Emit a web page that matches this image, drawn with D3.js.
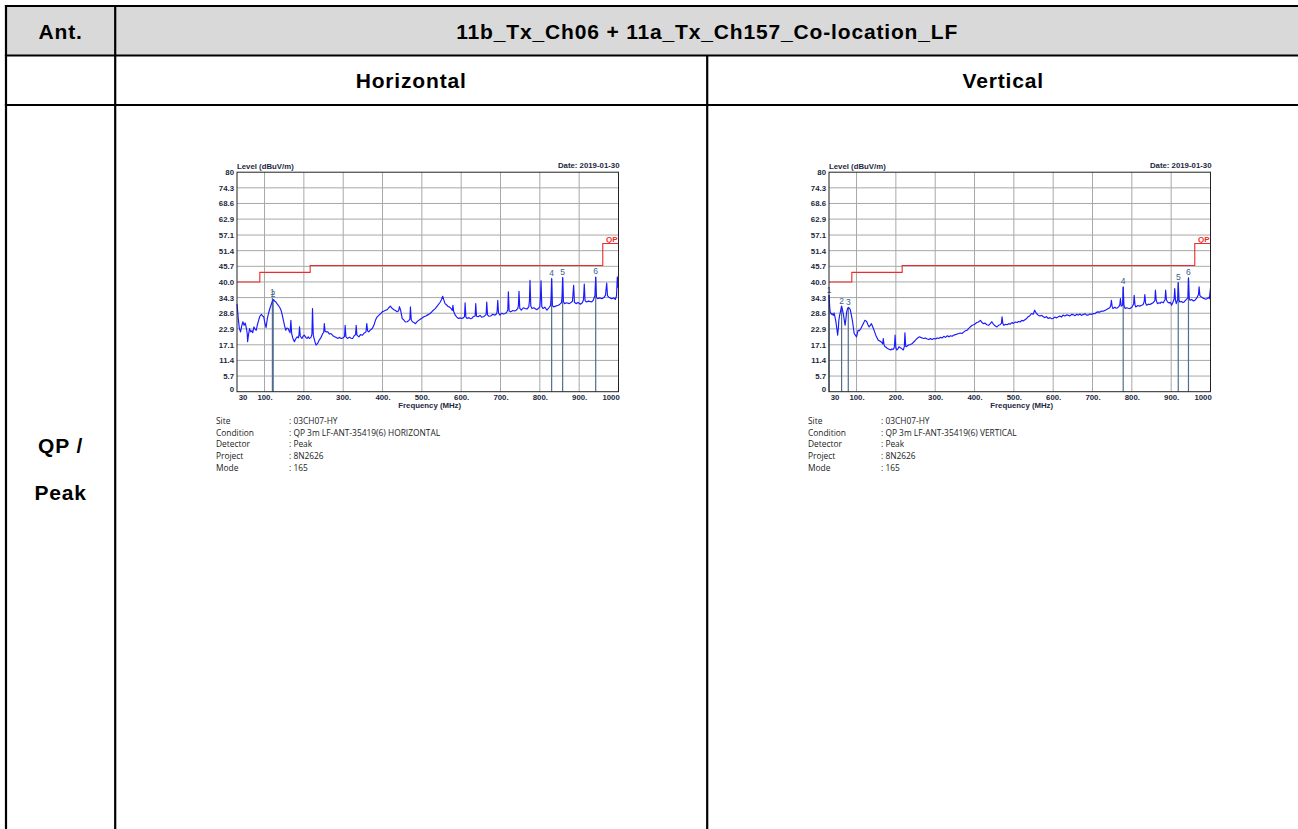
<!DOCTYPE html>
<html>
<head>
<meta charset="utf-8">
<script src="https://cdn.jsdelivr.net/npm/d3@7"></script>
<style>
  body { margin: 0; background: #fff; }
  svg { display: block; font-family: "Liberation Sans", Arial, sans-serif; }
</style>
</head>
<body>
<div id="page"></div>
<script>
// ---- data ----
const xTicks = [30, 100, 200, 300, 400, 500, 600, 700, 800, 900, 1000];
const xTickLabels = ["30", "100.", "200.", "300.", "400.", "500.", "600.", "700.", "800.", "900.", "1000"];
const yTicks = [0, 5.7, 11.4, 17.1, 22.9, 28.6, 34.3, 40.0, 45.7, 51.4, 57.1, 62.9, 68.6, 74.3, 80];
const yTickLabels = ["0", "5.7", "11.4", "17.1", "22.9", "28.6", "34.3", "40.0", "45.7", "51.4", "57.1", "62.9", "68.6", "74.3", "80"];

// QP limit, stepped (MHz, dBuV/m)
const limitFreq = [30, 88, 88, 216, 216, 960, 960, 1000];
const limitLevel = [40, 40, 43.5, 43.5, 46, 46, 54, 54];

// horizontal trace [MHz, dBuV/m]
const horizTrace = [
  [30, 32], [33, 27], [36, 23], [39, 21.8], [42, 24], [45, 25.5], [48, 24.2], [51, 25], [54, 23], [56, 21.2],
  [57, 18.2], [59, 20.5], [62, 23], [65, 21.8], [68, 22.2], [70, 21.5], [73, 23.6], [76, 22.8], [79, 22.4],
  [82, 24.5], [85, 26], [88, 27.5], [92, 28.2], [95, 27.6], [98, 27.3], [101, 25], [104, 23.4], [107, 26.5],
  [110, 28.5], [114, 30.5], [117, 31.8], [120, 33], [123, 33.6], [126, 33], [129, 32.7], [132, 32], [135, 31.5],
  [139, 30.6], [142, 29.7], [145, 28], [148, 26], [151, 24], [154, 22.4], [157, 23.2], [160, 23], [163, 22],
  [165, 21.5], [167, 26], [169, 21.2], [172, 19.5], [176, 18.2], [179, 19.2], [183, 20], [186, 19.6], [187.5, 20.5],
  [189, 23.6], [191, 20.2], [195, 19.4], [198, 20.2], [201, 20.6], [205, 19.8], [208, 19.4], [211, 20], [214, 19.4],
  [218, 19.8], [220.5, 21], [222, 30.3], [224, 20.5], [226, 19.4], [229, 17.8], [231, 17], [235, 17.6], [239, 18.8],
  [243, 19.6], [248, 21.2], [250.5, 21.6], [252, 24.8], [254, 22], [257, 21.8], [261, 21.8], [265, 21], [269, 21.2],
  [274, 20.4], [278, 20], [282, 19.8], [286, 19.4], [290, 19.8], [295, 19.4], [300, 19.6], [303.5, 20.2], [305, 24.2],
  [307, 20], [311, 19.4], [316, 19.9], [320, 19.5], [324, 19.4], [328, 20.4], [331.5, 20.8], [333, 24.2], [335, 20.6],
  [340, 20], [344, 20.8], [349, 20.6], [354, 21.4], [358, 21.8], [360, 24.8], [362, 22.2], [365, 21.8], [370, 22.6],
  [374, 23], [378, 24.2], [382, 26], [386, 27.2], [391, 27.9], [395, 28.4], [399, 29.1], [404, 29.4], [408, 29.7],
  [412, 29.9], [416, 30.6], [420, 31.2], [424, 30.4], [429, 29.9], [433, 29.6], [437, 29.1], [441, 29.5], [443, 31],
  [446, 29.7], [448, 28.2], [450, 26.7], [454, 26.2], [458, 25.4], [463, 25.5], [467, 26], [469.5, 26.4], [471, 30.9],
  [473, 26.2], [476, 25.5], [480, 25.2], [484, 24.8], [488, 25.6], [492, 26], [496, 26.4], [500, 26.8], [505, 27.3],
  [510, 27.6], [515, 28], [521, 28.5], [527, 29.4], [534, 30.3], [540, 31.4], [547, 32.7], [550, 33.6], [553, 34.8],
  [556, 33.4], [559, 32.1], [563, 31.6], [567, 31], [570, 30.9], [575, 30.2], [577.5, 29.6], [579, 31.5], [581, 29.2],
  [585, 27.9], [589, 27.2], [593, 26.7], [597, 26.9], [602, 26.7], [606, 27], [608.5, 27.4], [610, 32.4], [612, 27.2],
  [615, 26.7], [620, 27], [624, 26.6], [627, 26.7], [631, 27.4], [635.5, 27.6], [637, 32.1], [639, 27.5], [643, 27.3],
  [648, 27.8], [652, 27.2], [657, 27.3], [661, 27.8], [663.5, 28.2], [665, 32.7], [667, 28], [670, 27.5], [675, 27.6],
  [680, 28.2], [686, 27.9], [690, 28.4], [691.5, 29.5], [693, 33.3], [695, 28.6], [699, 27.9], [703, 28.6], [708, 28.3],
  [712, 28.5], [716, 29], [718.5, 29.8], [720, 36.4], [722, 29.4], [726, 29.1], [731, 29.6], [736, 29.4], [740, 29.7],
  [744, 30.4], [745.5, 31.5], [747, 36.6], [749, 30.4], [753, 29.7], [758, 30.6], [763, 30.3], [768, 30.2], [772, 31],
  [773.5, 33], [775, 40.6], [777, 31.2], [780, 30.3], [785, 30.6], [792, 29.9], [797, 30.4], [800, 31], [801.5, 34],
  [803, 40.4], [805, 31], [808, 30.3], [813, 30.8], [818, 29.7], [823, 30.6], [827, 31.4], [828.5, 34], [830, 41.2],
  [832, 31.4], [835, 30.9], [840, 31.2], [847, 31.5], [851, 31.9], [855, 32.4], [856.5, 35], [858, 41.6], [860, 32.8],
  [863, 32.1], [868, 32.4], [875, 32.1], [880, 32.6], [883, 33], [884.5, 36], [886, 38.8], [888, 32.6], [892, 32.1],
  [897, 32.5], [903, 31.9], [908, 32.4], [911, 33.5], [913, 39.2], [915, 33.2], [918, 32.7], [924, 33], [932, 32.7],
  [936, 33.4], [940, 35], [942, 41.8], [944, 34.4], [947, 33.9], [952, 34.2], [958, 33.9], [963, 34.3], [967, 35.2],
  [970, 39.6], [972, 35], [975, 34.5], [979, 34.1], [983, 33.9], [988, 34.2], [992, 33.6], [995, 35], [997, 41.8],
  [999, 38], [1000, 42.4]
];

// vertical trace [MHz, dBuV/m]
const vertTrace = [
  [30, 35.2], [32, 30.5], [33, 29.1], [36, 28.2], [38, 28.5], [41, 27.8], [43, 28.7], [45, 27.4], [47, 26], [50, 23],
  [52, 20.6], [54, 23.5], [55, 26], [57, 27.8], [59, 29.1], [61, 30.6], [62, 31.2], [64, 30], [67, 27.9], [69, 26],
  [71, 24.2], [73, 26.6], [75, 29.1], [77, 30.2], [79, 30.7], [82, 30.4], [84, 29.9], [87, 27.8], [90, 25.5], [92, 23.3],
  [94, 21.2], [97, 20.6], [100, 20], [102, 21.2], [104, 22.4], [107, 22.2], [111, 23], [113, 23.6], [115, 24.2],
  [118, 25], [121, 26], [124, 25.8], [126, 25.5], [129, 24.4], [132, 23.6], [135, 24.2], [138, 24.8], [140, 24],
  [143, 23], [146, 21.8], [149, 20.6], [152, 19.7], [155, 18.8], [158, 18.6], [162, 18.2], [165, 17.8], [166.5, 17.4],
  [168, 19.4], [170, 17], [172, 16.5], [175, 16.2], [178, 15.8], [181, 15.6], [184, 15.4], [187, 15.2], [190, 15.6],
  [193, 15.4], [195, 15.8], [196.5, 16.6], [198, 20.6], [200, 16], [202, 15.2], [205, 15.6], [208, 16.4], [211, 16],
  [214, 15.8], [217, 15.4], [219, 15.2], [221.5, 16.4], [223, 21.5], [225, 16.6], [227, 16.4], [230, 16.8], [233, 17],
  [237, 17.2], [242, 17.6], [246, 18.2], [250, 18.8], [254, 19.4], [259, 20], [263, 19.8], [267, 19.6], [271, 19.4],
  [275, 19.6], [280, 19.2], [284, 19], [288, 19.4], [292, 19], [297, 19.4], [301, 19.2], [305, 19.6], [309, 19.4],
  [313, 19.8], [318, 19.6], [322, 20.2], [326, 19.8], [331, 20.4], [335, 20], [339, 20.4], [343, 20.2], [347, 20.6],
  [351, 20.8], [356, 21], [360, 21.2], [364, 21.4], [368, 21.2], [373, 21.8], [377, 22.2], [381, 22.4], [385, 23],
  [389, 23.6], [394, 24.2], [398, 24.4], [402, 24.8], [406, 25.2], [410, 25.4], [415, 26], [419, 25.2], [423, 24.8],
  [427, 25], [431, 24.4], [436, 24.2], [440, 24.8], [444, 25.5], [448, 24.6], [452, 24], [457, 23.6], [461, 24.2],
  [465, 24.4], [468.5, 25], [470, 27.3], [472, 24.8], [475, 24.2], [479, 24.6], [483, 24.4], [487, 24.8], [491, 24.6],
  [495, 25.2], [499, 24.9], [504, 25.4], [508, 25.2], [512, 25.6], [516, 25.4], [520, 26], [524, 25.8], [528, 26.2],
  [532, 26.6], [536, 27.3], [540, 27.6], [545, 28.5], [549, 28.2], [553, 29.7], [557, 28.6], [562, 27.9], [566, 27.6],
  [571, 27.8], [575, 27.3], [579, 27], [583, 27.4], [587, 26.7], [592, 27], [596, 26.6], [600, 26.7], [604, 27.2],
  [609, 26.9], [613, 27.3], [617, 27.6], [621, 27.2], [625, 27.9], [630, 27.6], [634, 28], [638, 27.9], [642, 27.6],
  [647, 28.2], [651, 28.1], [655, 27.7], [660, 28.2], [664, 27.9], [668, 28.3], [672, 27.8], [676, 28.1], [681, 28.4],
  [685, 27.9], [689, 27.9], [693, 28.3], [698, 28.2], [702, 28.5], [706, 28.4], [710, 28.9], [714, 29.1], [718, 29],
  [723, 29.4], [727, 29.3], [731, 29.6], [735, 29.9], [740, 30.3], [744, 30.6], [746.5, 31.6], [748, 33.3], [750, 31],
  [752, 30.3], [757, 30.8], [760, 30.4], [763, 30.5], [767, 31], [769.5, 31.8], [771, 33.9], [773, 31.2], [776.5, 31.6],
  [778, 38.2], [780, 31.4], [783, 30.3], [787, 30.6], [791, 30.4], [795, 30.3], [800, 30.8], [804.5, 32], [806, 35.1],
  [808, 31.6], [810, 30.9], [815, 31.4], [820, 31.2], [825, 31.5], [829, 31.8], [831.5, 33], [833, 35.4], [835, 32.2],
  [838, 31.5], [842, 31.9], [846, 31.8], [850, 32.1], [854, 32.4], [858.5, 33.2], [860, 37], [862, 33.4], [865, 32.1],
  [869, 32.4], [872, 32.2], [875, 32.7], [880, 32.4], [884.5, 33.6], [886, 37], [888, 33.4], [891, 32.7], [895, 32.3],
  [898, 32.6], [901, 31.5], [904, 32.4], [907.5, 33.8], [909, 37.6], [911, 33.4], [913, 32.1], [916.5, 33.6], [918, 39.8],
  [920, 33.4], [922, 32.7], [926, 32.9], [930, 32.5], [933, 32.7], [937, 33.4], [942.5, 34.2], [944, 41.5], [946, 34],
  [948, 33.3], [952, 33.6], [956, 33.1], [960, 33.3], [964, 33.9], [969.5, 35.4], [971, 38.2], [973, 35], [977, 34.5],
  [981, 34.1], [985, 33.9], [988, 33.7], [992, 34], [995, 34.4], [997, 33.9], [999, 36.4], [1000, 37.8]
];

// markers [number, MHz, dBuV/m]
const horizMarkers = [[1, 120, 34.2], [2, 122, 33.6], [4, 830, 41.2], [5, 858, 41.6], [6, 942, 41.8]];
const vertMarkers = [[1, 30, 35.2], [2, 62, 31.2], [3, 79, 30.7], [4, 778, 38.2], [5, 918, 39.8], [6, 944, 41.5]];

const infoKeys = ["Site", "Condition", "Detector", "Project", "Mode"];
const horizInfo = [": 03CH07-HY", ": QP 3m LF-ANT-35419(6) HORIZONTAL", ": Peak", ": 8N2626", ": 165"];
const vertInfo = [": 03CH07-HY", ": QP 3m LF-ANT-35419(6) VERTICAL", ": Peak", ": 8N2626", ": 165"];

// ---- page ----
const W = 1298, H = 829;
const svg = d3.select("#page").append("svg")
    .attr("width", W)
    .attr("height", H);

// table
const colX = [6, 115.2, 707.2, 1299.2];
const rowY = [6, 55.5, 105, 900];

svg.append("rect")
    .attr("x", colX[0]).attr("y", rowY[0])
    .attr("width", colX[3] - colX[0]).attr("height", rowY[1] - rowY[0])
    .attr("fill", "#d9d9d9");

const cellFont = "bold 21px 'Liberation Sans', Arial, sans-serif";
const cellText = (x, y, t) => svg.append("text")
    .attr("x", x).attr("y", y)
    .attr("text-anchor", "middle")
    .style("font", cellFont)
    .style("letter-spacing", "0.04em")
    .attr("fill", "#000")
    .text(t);

cellText((colX[0] + colX[1]) / 2, 38.5, "Ant.");
cellText(colX[2], 38.5, "11b_Tx_Ch06 + 11a_Tx_Ch157_Co-location_LF");
cellText((colX[1] + colX[2]) / 2, 88, "Horizontal");
cellText((colX[2] + colX[3]) / 2, 88, "Vertical");
cellText((colX[0] + colX[1]) / 2, 453, "QP /");
cellText((colX[0] + colX[1]) / 2, 500, "Peak");

const borders = svg.append("g").attr("stroke", "#000").attr("stroke-width", 2.2);
rowY.slice(0, 3).forEach(y => borders.append("line").attr("x1", colX[0] - 1.1).attr("x2", W + 2).attr("y1", y).attr("y2", y));
borders.append("line").attr("x1", colX[1]).attr("x2", colX[1]).attr("y1", rowY[0]).attr("y2", H + 2);
borders.append("line").attr("x1", colX[2]).attr("x2", colX[2]).attr("y1", rowY[1]).attr("y2", H + 2);
borders.append("line").attr("x1", colX[0]).attr("x2", colX[0]).attr("y1", rowY[0] - 1.1).attr("y2", H + 2);

// ---- one EMI plot ----
function drawPlot(left, trace, markers, info) {
    const top = 172.2, pw = 381.5, ph = 219.5;
    const g = svg.append("g").attr("transform", `translate(${left},${top})`);
    const x = d3.scaleLinear().domain([30, 1000]).range([0, pw]);
    const y = d3.scaleLinear().domain([0, 80]).range([ph, 0]);
    const labelColor = "#1c2840";
    const small = "bold 7.8px 'Liberation Sans', Arial, sans-serif";

    // grid
    g.append("g")
        .attr("stroke", "#a8a8a8").attr("stroke-width", 1)
        .selectAll("line.v").data(xTicks.slice(1, -1)).join("line")
        .attr("x1", d => x(d)).attr("x2", d => x(d)).attr("y1", 0).attr("y2", ph);
    g.append("g")
        .attr("stroke", "#a8a8a8").attr("stroke-width", 1)
        .selectAll("line.h").data(yTicks.slice(1, -1)).join("line")
        .attr("x1", 0).attr("x2", pw).attr("y1", d => y(d)).attr("y2", d => y(d));

    // axes labels via d3 axes
    const yAxis = g.append("g")
        .call(d3.axisLeft(y).tickValues(yTicks).tickSize(0).tickPadding(3)
            .tickFormat((d, i) => yTickLabels[i]));
    yAxis.select(".domain").remove();
    yAxis.selectAll("text").style("font", small).attr("fill", labelColor);
    yAxis.selectAll(".tick").filter(d => d === 0).select("text").attr("dy", "-0.05em");

    const xAxis = g.append("g")
        .attr("transform", `translate(0,${ph})`)
        .call(d3.axisBottom(x).tickValues(xTicks).tickSize(0).tickPadding(2.5)
            .tickFormat((d, i) => xTickLabels[i]));
    xAxis.select(".domain").remove();
    xAxis.selectAll("text").style("font", small).attr("fill", labelColor)
        .attr("text-anchor", d => d === 30 ? "start" : d === 1000 ? "end" : "middle")
        .attr("dx", d => d === 30 ? "0.15em" : d === 1000 ? "0.1em" : 0);

    g.append("text").attr("x", x(520)).attr("y", ph + 16.5)
        .attr("text-anchor", "middle").style("font", small).attr("fill", labelColor)
        .text("Frequency (MHz)");
    g.append("text").attr("x", 0).attr("y", -3)
        .style("font", small).attr("fill", labelColor)
        .text("Level (dBuV/m)");
    g.append("text").attr("x", pw + 1).attr("y", -4.5)
        .attr("text-anchor", "end").style("font", small).attr("fill", labelColor)
        .text("Date: 2019-01-30");

    // limit line
    const limit = limitFreq.map((f, i) => [f, limitLevel[i]]);
    g.append("path")
        .datum(limit)
        .attr("fill", "none").attr("stroke", "#ee2b2b").attr("stroke-width", 1.1)
        .attr("d", d3.line().x(d => x(d[0])).y(d => y(d[1])));
    g.append("text").attr("x", pw - 1).attr("y", y(54) - 2)
        .attr("text-anchor", "end")
        .style("font", "bold 8px 'Liberation Sans', Arial, sans-serif")
        .attr("fill", "#ee2b2b").text("QP");

    // marker drop lines
    g.append("g")
        .attr("stroke", "#4f6f8f").attr("stroke-width", 1.2)
        .selectAll("line").data(markers).join("line")
        .attr("x1", d => x(d[1])).attr("x2", d => x(d[1]))
        .attr("y1", d => y(d[2])).attr("y2", ph);

    // trace
    g.append("path")
        .datum(trace)
        .attr("fill", "none").attr("stroke", "#1a1aff").attr("stroke-width", 1.15)
        .attr("stroke-linejoin", "round")
        .attr("d", d3.line().x(d => x(d[0])).y(d => y(d[1])));

    // marker numbers
    g.append("g")
        .selectAll("text").data(markers).join("text")
        .attr("x", d => x(d[1])).attr("y", d => y(d[2]) - 2.5)
        .attr("text-anchor", "middle")
        .style("font", "8.5px 'Liberation Sans', Arial, sans-serif")
        .attr("fill", "#3c5f8c")
        .text(d => d[0]);

    // frame
    g.append("rect").attr("width", pw).attr("height", ph)
        .attr("fill", "none").attr("stroke", "#222").attr("stroke-width", 1);

    // info block
    const info_g = svg.append("g").style("font", "8.4px 'Open Sans', 'Liberation Sans', sans-serif").attr("fill", "#222");
    infoKeys.forEach((k, i) => {
        info_g.append("text").attr("x", left - 21).attr("y", top + 252 + i * 11.6).text(k);
        info_g.append("text").attr("x", left + 52).attr("y", top + 252 + i * 11.6).text(info[i]);
    });
}

drawPlot(237, horizTrace, horizMarkers, horizInfo);
drawPlot(829, vertTrace, vertMarkers, vertInfo);
</script>
</body>
</html>
